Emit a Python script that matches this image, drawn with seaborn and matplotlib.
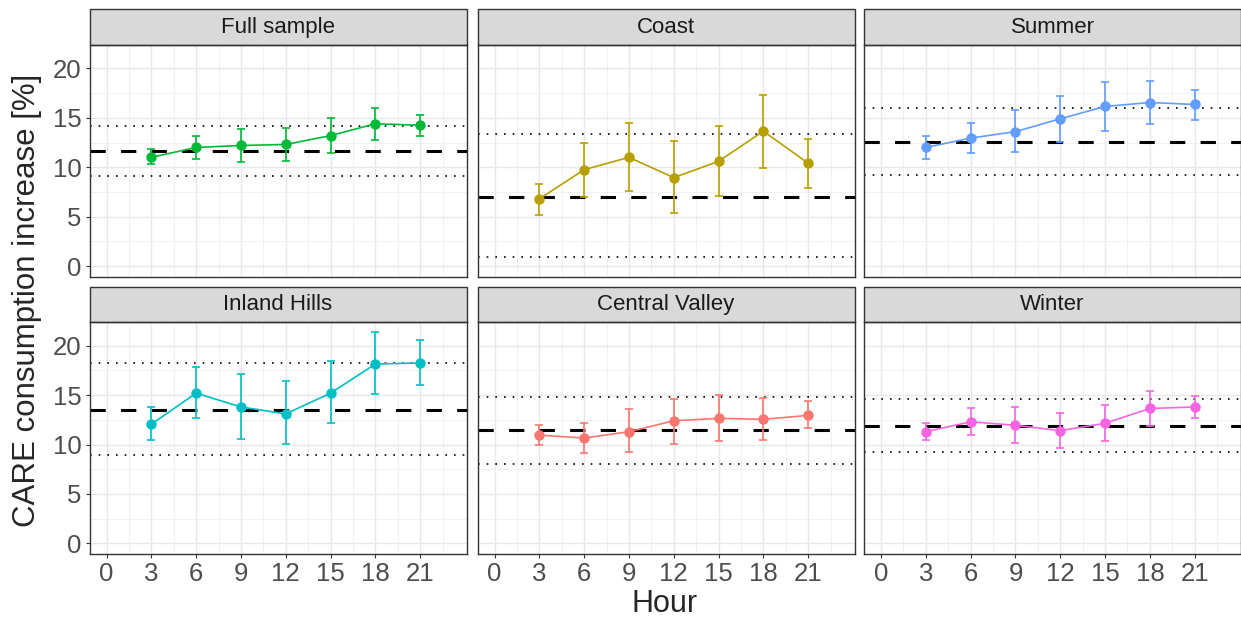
import matplotlib
matplotlib.use("Agg")
import matplotlib.pyplot as plt
from matplotlib.patches import Rectangle
import numpy as np
import pandas as pd
import seaborn as sns

# Datos
hours = [3, 6, 9, 12, 15, 18, 21]

panels = ["Full sample", "Coast", "Summer", "Inland Hills", "Central Valley", "Winter"]
colors = ["#00BA38", "#B79F00", "#619CFF", "#00BFC4", "#F8766D", "#F564E3"]

# estimacion por hora, limite inferior y superior
est_full = [11.0, 12.0, 12.2, 12.3, 13.2, 14.4, 14.25]
lo_full = [10.3, 10.8, 10.55, 10.65, 11.45, 12.75, 13.15]
hi_full = [11.8, 13.2, 13.85, 13.95, 15.0, 16.0, 15.3]

est_coast = [6.8, 9.75, 11.0, 8.95, 10.6, 13.65, 10.4]
lo_coast = [5.15, 7.0, 7.6, 5.4, 7.1, 9.95, 7.9]
hi_coast = [8.3, 12.5, 14.5, 12.65, 14.2, 17.3, 12.85]

est_summer = [12.0, 12.95, 13.6, 14.9, 16.15, 16.55, 16.35]
lo_summer = [10.8, 11.4, 11.5, 12.55, 13.7, 14.4, 14.8]
hi_summer = [13.15, 14.5, 15.8, 17.25, 18.6, 18.7, 17.8]

est_inland = [12.05, 15.2, 13.8, 13.1, 15.2, 18.15, 18.25]
lo_inland = [10.45, 12.65, 10.55, 10.05, 12.15, 15.1, 16.0]
hi_inland = [13.75, 17.8, 17.15, 16.4, 18.45, 21.35, 20.6]

est_valley = [10.95, 10.65, 11.3, 12.4, 12.65, 12.55, 12.95]
lo_valley = [9.95, 9.1, 9.2, 10.05, 10.35, 10.45, 11.65]
hi_valley = [11.95, 12.2, 13.6, 14.65, 15.05, 14.7, 14.4]

est_winter = [11.3, 12.3, 11.95, 11.4, 12.15, 13.65, 13.8]
lo_winter = [10.45, 10.95, 10.15, 9.65, 10.4, 11.9, 12.65]
hi_winter = [12.15, 13.65, 13.8, 13.15, 14.0, 15.4, 14.95]

# promedio general y su intervalo (lineas horizontales)
avg = [11.62, 6.97, 12.53, 13.54, 11.45, 11.89]
avg_lo = [9.12, 0.91, 9.19, 8.92, 8.07, 9.22]
avg_hi = [14.17, 13.4, 15.99, 18.3, 14.82, 14.62]

series = {
    "Full sample": (est_full, lo_full, hi_full),
    "Coast": (est_coast, lo_coast, hi_coast),
    "Summer": (est_summer, lo_summer, hi_summer),
    "Inland Hills": (est_inland, lo_inland, hi_inland),
    "Central Valley": (est_valley, lo_valley, hi_valley),
    "Winter": (est_winter, lo_winter, hi_winter),
}

sns.set_theme(style="white")
plt.rcParams['font.family'] = ['Liberation Sans', 'DejaVu Sans']

W, H = 1241, 618
fig = plt.figure(figsize=(W / 100, H / 100), dpi=100)

col_left = [89.5, 477.5, 864.0]
panel_w = 377.0
row_bottom = [618 - 276.7, 618 - 554.0]
panel_h = 231.8
strip_h = 35.5

grey_txt = "#4D4D4D"
border = "#333333"

for i, name in enumerate(panels):
    r, c = divmod(i, 3)
    ax = fig.add_axes([col_left[c] / W, row_bottom[r] / H, panel_w / W, panel_h / H])
    est, lo, hi = series[name]
    df = pd.DataFrame({"hour": hours, "est": est, "lo": lo, "hi": hi})
    col = colors[i]

    ax.axhline(avg_lo[i], color="black", ls=(0, (1, 4.2)), lw=1.2, zorder=2)
    ax.axhline(avg_hi[i], color="black", ls=(0, (1, 4.2)), lw=1.2, zorder=2)
    ax.axhline(avg[i], color="black", ls=(0, (5, 5)), lw=2.2, zorder=2)

    ax.errorbar(df["hour"], df["est"],
                yerr=[df["est"] - df["lo"], df["hi"] - df["est"]],
                fmt="none", ecolor=col, elinewidth=1.2, capsize=3.2, capthick=1.2, zorder=3)
    sns.lineplot(data=df, x="hour", y="est", color=col, lw=1.2, marker="o",
                 markersize=7.5, markeredgewidth=0, ax=ax, zorder=4)

    ax.set_xlim(-1.14, 24.1)
    ax.set_ylim(-1.08, 22.38)
    ax.set_xticks(range(0, 22, 3))
    ax.set_xticks(np.arange(1.5, 23, 3), minor=True)
    ax.set_yticks([0, 5, 10, 15, 20])
    ax.set_yticks([2.5, 7.5, 12.5, 17.5], minor=True)
    ax.grid(which="major", color="#E8E8E8", lw=1.0)
    ax.grid(which="minor", color="#EBEBEB", lw=0.5)
    ax.set_axisbelow(True)
    ax.set_xlabel("")
    ax.set_ylabel("")
    for s in ax.spines.values():
        s.set_color(border)
        s.set_linewidth(1.0)

    ax.tick_params(which="minor", length=0)
    ax.tick_params(which="major", length=3.2, width=0.8, color=border,
                   labelsize=18.5, labelcolor=grey_txt, pad=2.5,
                   bottom=(r == 1), labelbottom=(r == 1),
                   left=(c == 0), labelleft=(c == 0))

    # tira del titulo del panel
    ax.add_patch(Rectangle((0, 1), 1, strip_h / panel_h, transform=ax.transAxes,
                           facecolor="#D9D9D9", edgecolor=border, lw=1.0, clip_on=False))
    ax.text(0.5, 1 + strip_h / panel_h / 2, name, transform=ax.transAxes,
            ha="center", va="center", fontsize=16, color="#1A1A1A")

fig.text(665 / W, (618 - 604) / H, "Hour", ha="center", va="center", fontsize=22)
fig.text(27 / W, (618 - 300) / H, "CARE consumption increase [%]", rotation=90,
         ha="center", va="center", fontsize=22.5)

fig.savefig("out.png", dpi=100)
